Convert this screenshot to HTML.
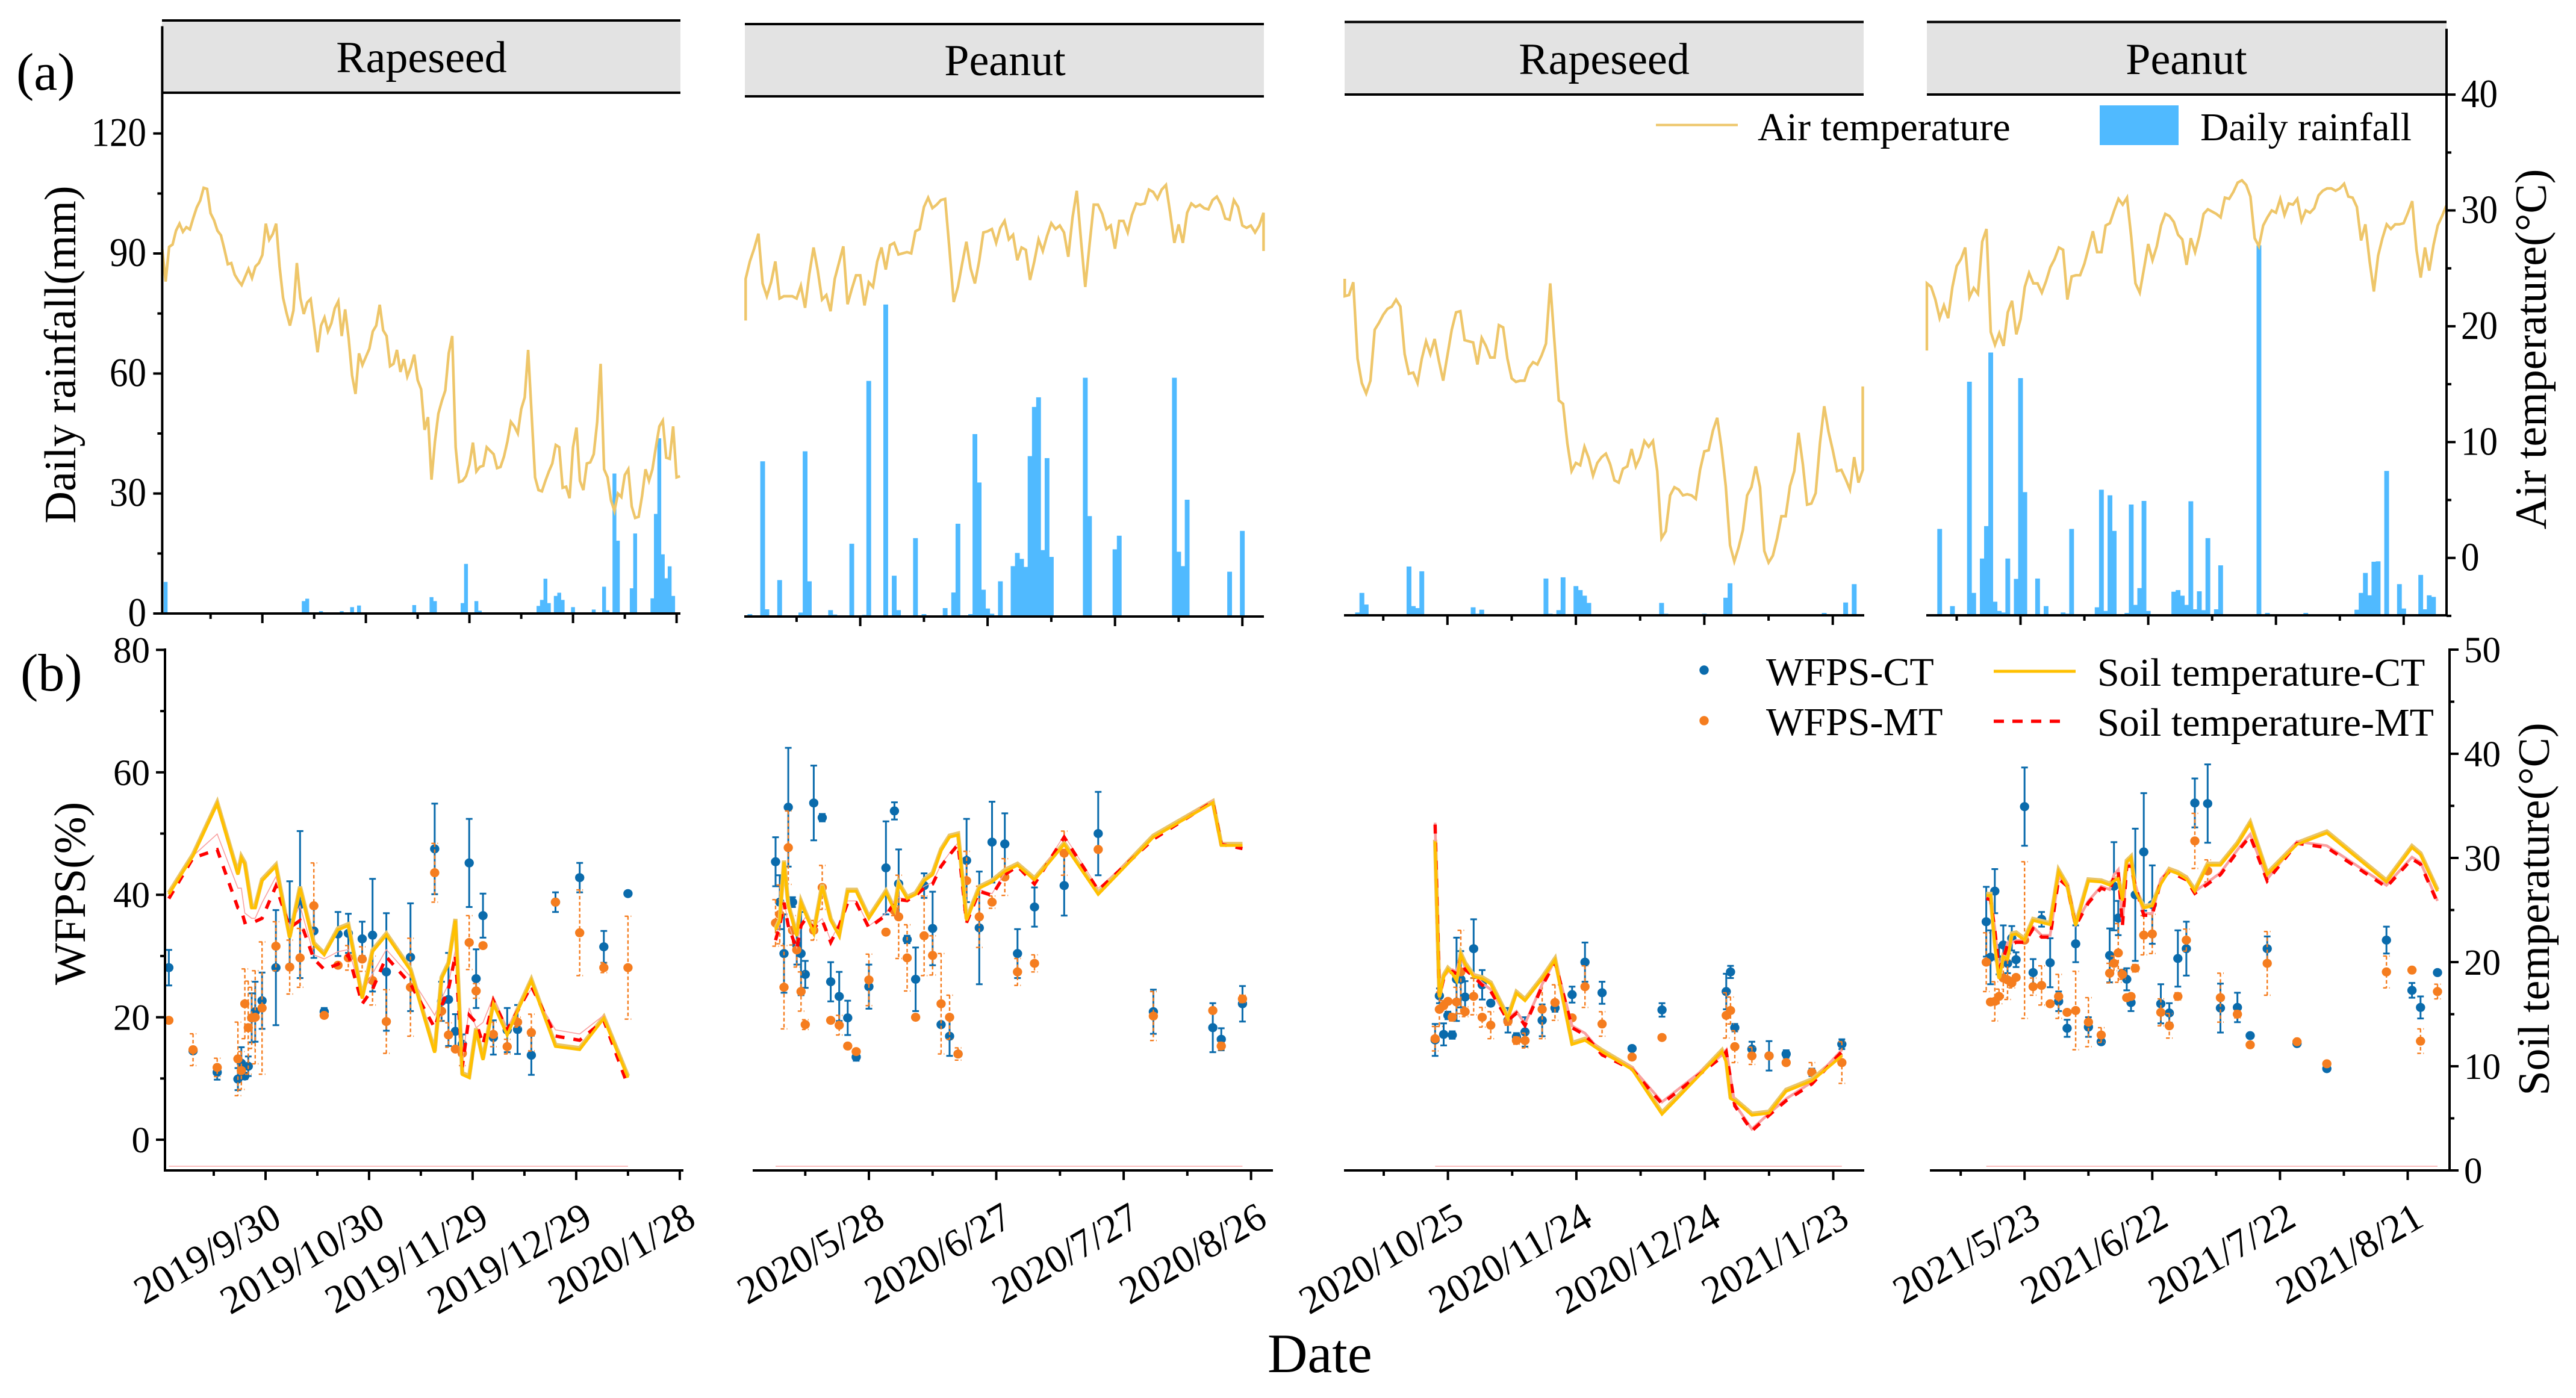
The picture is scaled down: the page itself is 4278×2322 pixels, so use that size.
<!DOCTYPE html>
<html lang="en">
<head>
<meta charset="utf-8">
<title>Rainfall, air temperature, WFPS and soil temperature</title>
<style>
html,body{margin:0;padding:0;background:#fff}
svg{display:block}
text{font-family:"Liberation Serif",serif;fill:#000}
</style>
</head>
<body>
<svg id="chart" width="4278" height="2322" viewBox="0 0 4278 2322" xmlns="http://www.w3.org/2000/svg">
<rect x="0" y="0" width="4278" height="2322" fill="#fff"/>
<g id="strips">
<rect x="269" y="34" width="861" height="120" fill="#e3e3e3"/>
<rect x="1237" y="40" width="862" height="120" fill="#e3e3e3"/>
<rect x="2233" y="36.5" width="862" height="120.5" fill="#e3e3e3"/>
<rect x="3200" y="36.5" width="863" height="120.5" fill="#e3e3e3"/>
<path d="M269 34H1130M269 154H1130M1237 40H2099M1237 160H2099M2233 36.5H3095M2233 157H3095M3200 36.5H4063M3200 157H4063" stroke="#000" stroke-width="4" fill="none"/>
<text x="700" y="120" font-size="74" text-anchor="middle">Rapeseed</text>
<text x="1669" y="125" font-size="74" text-anchor="middle">Peanut</text>
<text x="2664" y="123" font-size="74" text-anchor="middle">Rapeseed</text>
<text x="3631" y="123" font-size="74" text-anchor="middle">Peanut</text>
</g>
<g id="plot"></g>
<g id="axes"></g>
<g id="titles">
<text x="27" y="149" font-size="88">(a)</text>
<text x="34" y="1147" font-size="88">(b)</text>
<text transform="translate(125,589) rotate(-90)" font-size="74" text-anchor="middle">Daily rainfall(mm)</text>
<text transform="translate(141,1484) rotate(-90)" font-size="74" text-anchor="middle">WFPS(%)</text>
<text transform="translate(4228,580) rotate(-90)" font-size="74" text-anchor="middle">Air temperature(°C)</text>
<text transform="translate(4233,1510) rotate(-90)" font-size="74" text-anchor="middle">Soil temperature(°C)</text>
<text x="2105" y="2279" font-size="92">Date</text>
</g>
<g id="legend-a">
<line x1="2750" x2="2886" y1="207.6" y2="207.6" stroke="#eec66a" stroke-width="4"/>
<text x="2919" y="233" font-size="66">Air temperature</text>
<rect x="3487" y="175" width="131" height="66" fill="#50baff"/>
<text x="3654" y="233" font-size="65.5">Daily rainfall</text>
</g>
<g id="legend-b">
<circle cx="2830" cy="1113" r="7.7" fill="#0a6bac"/>
<text x="2933" y="1138" font-size="66">WFPS-CT</text>
<circle cx="2830" cy="1197" r="7.7" fill="#f57d1f"/>
<text x="2933" y="1221" font-size="66">WFPS-MT</text>
<line x1="3311" x2="3447" y1="1115" y2="1115" stroke="#ffc000" stroke-width="5"/>
<text x="3483" y="1139" font-size="66">Soil temperature-CT</text>
<line x1="3311" x2="3427" y1="1198" y2="1198" stroke="#f00" stroke-width="5.5" stroke-dasharray="17 14"/>
<text x="3483" y="1222" font-size="66">Soil temperature-MT</text>
</g>
</svg>
<script>
/* ---------- air temperature, one value per day from each panel's first day (°C) ---------- */
var air1=[26.5,23.7,26.7,26.9,28.1,28.7,28.0,28.4,28.2,29.2,30.1,30.7,31.8,31.7,29.6,29.0,28.1,27.7,26.5,25.2,25.3,24.3,23.8,23.4,24.1,24.8,24.0,25.0,25.3,26.0,28.7,27.3,27.8,28.7,25.0,22.3,21.0,19.9,21.2,25.3,22.3,20.9,21.9,22.2,19.9,17.6,19.9,20.6,19.4,20.1,21.4,22.0,19.0,21.3,18.8,15.6,14.0,17.5,16.5,17.2,17.9,19.4,19.9,21.7,19.5,19.0,16.4,16.6,17.8,15.9,17.0,15.5,16.3,17.4,15.2,14.4,10.9,12.0,6.6,9.9,12.3,13.4,14.3,17.5,19.0,9.4,6.4,6.5,6.9,7.9,9.8,7.3,7.7,7.8,9.4,9.1,8.8,7.6,7.7,8.6,9.9,11.6,11.2,10.6,12.7,13.7,17.8,12.3,6.8,5.7,5.6,6.5,7.3,8.0,9.6,9.4,5.9,6.0,5.0,9.4,11.1,6.5,5.7,8.0,8.1,8.8,11.6,16.6,7.5,6.8,4.8,3.9,5.4,5.1,7.0,7.5,4.3,3.3,3.4,5.2,7.5,6.5,7.5,9.4,11.2,11.7,8.5,8.4,11.2,6.8,6.9];
var air2=[24.2,25.7,26.8,28.1,23.8,22.7,23.9,25.7,22.5,22.7,22.7,22.7,22.5,23.6,21.7,24.6,26.9,24.9,22.4,22.8,21.4,24.2,25.6,27.0,22.0,23.3,24.5,24.5,21.9,23.9,23.5,25.7,26.9,25.0,27.1,27.3,26.3,26.4,26.5,26.4,28.3,28.5,30.4,31.2,30.3,30.6,31.0,31.1,26.8,22.2,23.5,25.5,27.4,25.1,23.8,25.7,28.2,28.3,28.5,27.3,28.6,29.2,27.6,28.0,25.8,26.9,26.7,24.1,25.7,27.6,26.6,27.9,29.0,28.5,28.8,28.2,26.1,29.5,31.8,27.5,23.5,27.1,30.6,30.6,29.8,28.5,28.8,26.8,29.2,29.2,28.2,29.7,30.7,30.6,30.7,31.9,31.7,31.1,31.9,32.3,29.9,27.3,28.9,27.3,29.9,30.7,30.4,30.6,30.3,30.2,31.0,31.3,30.6,29.4,29.3,31.0,30.4,28.8,28.6,28.8,28.2,28.8,29.9];
var air3=[22.6,22.7,23.8,17.2,15.1,14.2,15.3,19.7,20.3,21.0,21.5,21.7,22.3,21.7,17.6,15.9,16.0,15.1,17.2,18.7,17.6,18.9,17.0,15.3,17.5,19.7,21.2,21.3,18.8,18.7,18.6,16.7,19.0,18.3,17.3,17.3,20.1,19.9,17.2,15.5,15.2,15.3,15.3,16.4,16.9,16.7,17.5,18.5,23.7,18.6,13.6,13.3,9.9,7.5,8.2,8.0,9.6,8.6,7.1,8.2,8.7,9.0,8.1,6.7,6.5,7.7,7.9,9.4,7.9,8.7,10.1,9.6,10.1,7.5,1.7,2.3,5.4,6.1,5.9,5.4,5.5,5.4,5.1,7.6,9.2,9.3,11.0,12.1,9.5,6.2,1.1,-0.3,0.9,2.4,5.4,6.1,7.9,6.1,0.6,-0.4,0.2,1.7,3.6,3.6,6.2,7.5,10.8,8.1,4.6,4.7,5.6,9.9,13.1,10.9,9.3,7.5,7.6,6.8,5.9,8.7,6.5,7.6];
var air4=[23.7,23.4,22.3,20.7,21.8,20.7,23.4,25.2,25.8,26.8,22.5,23.3,22.8,27.3,28.4,19.5,18.4,19.4,18.3,21.2,22.2,19.3,20.6,23.4,24.6,23.7,23.7,22.9,23.9,25.1,25.8,26.8,26.6,22.3,24.3,24.4,24.4,25.4,26.8,28.2,26.4,26.4,28.7,28.9,30.0,31.0,30.5,31.1,27.7,23.7,22.9,25.0,27.1,25.7,26.9,28.7,29.7,29.5,29.0,27.9,27.5,25.3,27.6,26.4,27.8,29.7,30.1,29.9,29.7,29.4,31.1,31.0,31.6,32.4,32.6,32.2,31.2,27.6,26.9,28.7,29.4,30.0,29.8,31.0,29.6,30.6,30.5,31.0,29.1,30.0,29.8,30.2,31.3,31.7,31.9,31.9,31.7,31.9,32.3,31.2,31.1,30.3,27.4,28.8,25.6,23.0,26.1,27.6,28.8,28.4,28.8,28.8,28.9,29.8,30.8,26.6,24.2,26.8,24.8,27.0,28.7,29.5,30.4];
var airEdgeStart=[null,20.6,24.1,17.9];
var airEdgeEnd=[null,26.6,14.8,null];

/* ---------- daily rainfall (day index, mm) ---------- */
var rainDays1=[1,41,42,43,46,52,55,57,72,73,78,79,87,88,91,92,109,110,111,112,114,115,116,119,125,128,129,131,132,133,136,137,142,143,144,145,146,147,148];
var rainVals1=[7.9,3.1,3.7,0.2,0.6,0.6,1.6,2.0,0.3,2.1,4.1,3.1,2.6,12.4,3.1,0.7,1.9,3.4,8.7,2.6,4.4,5.2,3.4,1.6,1.0,6.7,0.8,35,18.2,0.3,6.3,20,3.8,24.9,43.8,14.8,8.8,11.8,4.4];
var rainDays2=[1,4,5,6,8,13,14,15,20,21,25,28,29,31,33,35,36,40,42,47,49,50,53,54,55,56,57,58,60,63,64,65,66,67,68,69,70,71,72,80,81,87,88,101,102,103,104,114,117];
var rainVals2=[0.6,38.8,1.8,0.3,9.1,1,41.3,8.8,1.6,0.5,18.2,0.4,58.9,0.2,78,10.2,1.6,19.6,0.6,2.1,6,23.2,0.6,45.6,33.5,6.7,2,0.7,8.8,12.6,15.9,14.4,12.4,40.1,52.4,54.8,16.6,39.6,14.9,59.7,25.1,16.8,20.2,59.7,16.2,12.6,29.2,11.2,21.4];
var rainDays3=[3,4,5,6,15,16,17,18,21,30,31,32,47,48,50,51,52,54,55,56,57,58,74,75,84,89,90,112,116,117,119];
var rainVals3=[0.7,5.6,2.7,0.3,12.2,2.3,1.8,11,0.2,2,0.4,1.4,9.2,0.4,1.3,9.5,0.2,7.3,6.3,4.9,3.1,0.2,3.1,0.4,0.4,4.4,8,0.6,0.3,3.2,7.8];
var rainDays4=[3,4,6,10,11,13,14,15,16,17,18,19,21,22,23,26,28,32,33,34,40,41,42,43,44,47,48,49,50,51,52,58,59,60,61,62,63,64,65,66,68,69,78,80,86,89,101,102,103,104,105,106,108,111,112,116,117,118,119];
var rainVals4=[21.6,0.3,2.3,58.4,5.6,14.2,22.3,65.7,3.4,1.1,0.7,14.2,9.1,59.3,30.8,9.2,2.3,0.7,0.4,21.6,2,31.4,1.1,30,21.1,0.6,27.7,2.6,6.8,28.6,1.1,5.9,6.3,4.9,2.6,28.5,1.5,6,1.3,19.3,1.5,12.5,92.5,0.6,0.2,0.6,1.4,5.6,10.6,5,13.4,13.5,36.1,7.8,1.7,10.1,1.5,5,4.6];

/* ---------- WFPS (%) with error sizes ---------- */
var wfpsDays1=[1,8,15,21,22,23,24,25,26,28,32,36,39,43,46,50,53,57,60,64,71,78,80,82,84,86,88,90,92,95,99,102,106,113,120,127,134];
var wfpsCt1=[28.1,14.5,11,9.9,12.5,10.4,12,19.9,20.9,22.7,28.1,35.4,38.4,34.1,20.9,33.6,33.7,32.8,33.4,27.4,29.8,47.5,22.6,22.9,17.7,15.6,45.2,26.3,36.6,16.7,17.9,18,13.8,38.8,42.8,31.5,40.2];
var wfpsCtErr1=[2.9,0.3,1.2,1.8,2.6,0.5,1.6,4,4.9,4.6,9.4,6.8,12,4.4,0.6,3.6,3.2,2.8,9.2,9.6,8.8,7.4,3.2,7.6,2.8,1.6,7.2,4.8,3.6,2.8,3.6,4,3.2,1.6,2.4,2.6,0];
var wfpsMt1=[19.5,14.7,11.8,13.2,11.3,22.2,18.3,19.9,20,21.5,31.6,28.2,29.7,38.2,20.3,28.5,29.7,29.5,26,19.3,24.9,43.6,21,17.1,14.8,14.1,32.2,24.3,31.7,17.2,15.2,19.2,17.5,38.8,33.8,28.1,28.1];
var wfpsMtErr1=[0,2.6,1.5,6,3.1,5.7,7.6,5,7.6,10.8,4,4.4,4.8,7,0.4,0.4,2,2,4,5.2,8,4.8,1.6,2,0.4,2,4.4,1.2,0.4,2,1.2,0.8,3,0.2,7,0.8,8.4];

var wfpsDays2=[5,6,7,8,9,10,11,12,14,16,18,20,22,24,27,31,33,34,36,38,40,42,44,46,48,50,53,56,59,62,66,73,81,94,108,110,115];
var wfpsCt2=[45.4,38.8,30.4,54.3,38.8,31.8,30.4,27,55,52.6,25.8,23.4,19.9,13.5,25,44.4,53.7,41.8,32.7,26.2,41.5,34.5,18.8,16.9,14,45.6,34.6,48.6,48.3,30.4,38,41.5,50,20.9,18.3,16.4,22.2];
var wfpsCtErr2=[4,4.4,6.4,9.7,0.8,3.2,6.8,2.2,6.1,0.6,3.2,4,2.8,0.6,3.6,7.6,1.4,5.6,0.6,5.2,2,6,0.2,3.2,0.2,6.8,9.2,6.6,5,4,3.2,4.9,6.8,3.6,4,1.8,2.9];
var wfpsMt2=[35.4,36.8,24.9,47.7,34.2,31,24.2,18.8,34.2,41.2,19.5,18.7,15.3,14.4,26.1,33.9,37.4,36.4,29.7,20,33.3,30.1,22.2,20,14,42.3,36.4,38.8,42.9,27.4,28.8,46.8,47.4,20.2,21.1,15.3,23];
var wfpsMtErr2=[3.8,4.8,6.8,6,2.4,2.8,3.2,0.8,1.6,3.6,0.4,1.6,0.2,0.2,4.2,0.4,0.8,6.8,5.4,0.4,6.5,3.2,8.2,3.6,1,4.8,5,1,3,2.2,1.4,3.6,0.4,4,0.4,0.6,0.6];

var wfpsDays3=[21,22,23,24,25,26,27,28,30,32,34,38,40,42,46,49,53,56,60,67,74,89,90,91,95,99,103,109,116];
var wfpsCt3=[16.3,23.5,17.2,20.3,17.1,26.2,26.2,23.3,31.2,25.3,22.3,19.5,16.8,17.6,19.5,21.5,23.7,29,24,14.9,21.2,24.2,27.4,18.3,14.8,13.7,14,11,15.6];
var wfpsCtErr3=[2.6,1.2,1.8,0.6,0.6,6.8,4.6,2.6,4.8,2.4,0.4,2,0.6,2.4,2.6,0.6,1.3,3.2,1.8,0.4,1.1,2.9,1,0.6,1.2,2.4,0.6,0.6,0.8];
var wfpsMt3=[16.5,21.3,21.9,22.6,20,22.5,27.4,20.9,23.4,20,18.7,19.3,16.2,16.2,21.3,22.4,19.9,25,18.9,13.5,16.7,20.3,21.1,15.2,13.7,13.7,12.6,11,12.6];
var wfpsMtErr3=[2,2.8,0.8,0.4,0.6,2.4,6.8,0.8,3,1.6,2.2,0.6,0.6,1.2,4.8,2.9,0.4,3.4,2,0.4,0.2,3.7,2.2,2.6,1.4,0.4,0.4,1.6,3.4];

var wfpsDays4=[13,14,15,16,17,18,19,20,22,24,26,28,30,32,34,37,40,42,43,44,45,46,47,48,50,52,54,56,58,60,62,65,68,72,75,79,86,93,107,113,115,119];
var wfpsCt4=[35.6,29.8,40.6,29.4,31.8,28.8,32.9,29.4,54.4,27.3,36,28.9,22.6,18.2,32,18.4,16,30.1,41.4,36.2,27.2,26.2,22.4,40,47,38.4,22.2,20.7,29.6,31.2,55,54.9,21.5,21.6,17,31.2,15.7,11.6,32.6,24.4,21.6,27.3];
var wfpsCtErr4=[5.7,4.4,3.6,2.4,3.2,1.6,2,1.2,6.4,2.2,1.2,4,1.6,1.4,3,1.6,0.4,4.4,7.2,2.8,0.4,1.8,1.4,10.8,9.6,6.4,3.2,1.6,4.6,4.4,4,6.4,4,2.4,0.2,2,0.2,0.2,2.2,1.2,1.8,0.2];
var wfpsMt4=[29,22.5,22.6,23.4,26.4,26.1,25.6,26.5,32.6,25,25.2,22.2,23.4,20.8,21.1,19.2,17.1,27.2,28.8,30.5,27,23.2,23.4,28,33.4,33.6,20.8,18.6,23.4,32.6,48.8,43.9,23.2,20.5,15.5,28.8,16,12.4,27.4,27.7,16.1,24.2];
var wfpsMtErr4=[4.8,0.4,3.2,1.2,3.2,3.2,0.8,0.4,12.8,1.4,3.2,0.2,3.6,0.2,6.4,4,1.2,1.6,1.2,4.8,0.8,0.2,0.2,0.6,3.2,3.2,2.2,2,0.6,1.8,4.5,1.8,4,0.6,0.2,5.2,0.2,0.2,2.6,0.4,2,1.2];

/* ---------- soil temperature (°C) ---------- */
var soilDays1=[1,8,15,21,22,23,25,26,28,32,36,39,43,46,50,53,57,60,64,71,78,80,82,84,86,88,90,92,95,99,102,106,113,120,127,134];
var soilCt1=[26.5,30.2,35.2,28.4,30,29.4,25.2,25.2,27.8,29.2,22.3,27.1,21.7,20.7,23.1,23.5,16.5,21,22.6,19.2,11.3,18.4,19.8,24,9.2,8.9,13.5,10.6,16,13,15.3,18.2,11.9,11.6,14.6,8.9];
var soilMt1=[26.1,30,30.8,25.2,25,23.8,24,23.9,24.2,27.3,23.3,24,20.3,19.3,19.8,20.7,16,17.4,20.5,17.9,13.7,15.8,17.4,20.7,9.9,14.9,14.2,12.1,16.3,13.5,15.3,17.7,12.9,12.5,14.4,8.1];
var soilMtUpper1=[26.4,30.2,32.3,27.1,27.1,24.7,24.2,24.2,25.7,28.2,23.5,25.4,20.7,20.3,21,21.2,17,18.9,21.2,18.6,14.9,16.5,17.9,21.2,10.4,15.6,13.7,14.2,16.7,13.7,15.6,17.4,13.5,13.1,14.9,9];

var soilDays2=[5,6,7,8,10,11,12,14,16,18,20,22,24,27,31,33,34,36,38,40,42,44,46,48,50,53,56,59,62,66,73,81,94,108,110,115];
var soilCt2=[23.1,24,29.6,25.4,22.5,25.7,24.7,22.8,27.3,24,22.5,26.8,26.8,24.2,26.7,25,27.5,26.1,26.5,27.8,28.4,30.7,32,32.2,24,27.1,27.7,28.7,29.3,27.9,31.3,26.5,32,35.3,31.2,31.2];
var soilMt2=[22.1,23.5,25.7,23.5,21.2,23.5,24.1,23.3,24,21.9,23.5,25.7,25.7,23.3,24.5,25.7,26,25.9,26.4,27.1,27.5,29.2,30.3,31.3,23.8,26.8,26.4,28.4,29.2,27.5,32,26.9,31.8,35.4,31.3,30.9];

var soilDays3=[21,22,23,24,25,26,27,28,30,32,34,38,40,42,46,49,53,56,60,67,74,88,89,90,91,95,99,103,109,116];
var soilCt3=[31.6,16.6,18.6,19.3,18.9,18.2,20.7,19.8,18.6,18.4,17.9,14.6,17,16.3,18.4,20.2,12.1,12.5,11.4,9.7,5.4,11.4,10.4,6.9,6.7,5.3,5.5,7.6,8.6,11];
var soilMt3=[33.2,16.7,18.4,18.9,19.1,18.9,20.5,19.3,18.6,17.8,17.2,14.4,15.1,13.9,17.7,20,13.7,13,11.1,9.7,6.4,10.9,11.4,8.8,6.2,3.8,5.3,6.7,8.3,11.4];

var soilDays4=[13,14,15,16,17,18,19,20,22,24,26,28,30,32,34,37,40,42,43,44,45,46,47,48,50,52,54,56,58,60,62,65,68,72,75,79,86,93,107,113,115,119];
var soilCt4=[26.4,26.4,21.7,18.4,20.5,20.3,22.6,22.7,22.1,24,23.8,23.6,28.7,27.3,23.5,27.8,27.7,27.4,27.8,28,25.9,29.6,30,26.8,25.2,25.4,27.5,28.8,28.5,28,26.8,29.3,29.3,31.3,33.3,28.4,31.3,32.4,27.7,31,30.3,26.8];
var soilMt4=[26.1,26,23.1,19.3,20.3,21.7,21.7,21.9,21.9,23.2,22.4,22.4,28,27.3,23.5,25.7,27.1,26.8,28.2,28.7,23.5,29.2,29.2,27.3,24.5,24.5,27.8,28.7,28.3,27.9,26.6,27.5,28.4,30.6,32.1,27.8,31.4,31,27.2,29.9,29.4,25.7];
var soilFloor=[0.4];

/* ---------- tick labels ---------- */
var xLabels1=['2019/9/30','2019/10/30','2019/11/29','2019/12/29','2020/1/28'];
var xLabels2=['2020/5/28','2020/6/27','2020/7/27','2020/8/26'];
var xLabels3=['2020/10/25','2020/11/24','2020/12/24','2021/1/23'];
var xLabels4=['2021/5/23','2021/6/22','2021/7/22','2021/8/21'];
var rainTicks=[0,30,60,90,120];
var rainMinor=[15,45,75,105];
var airTicks=[0,10,20,30,40];
var airMinor=[-5,5,15,25,35];
var wfpsTicks=[0,20,40,60,80];
var wfpsMinor=[10,30,50,70];
var soilTicks=[0,10,20,30,40,50];
var soilMinor=[5,15,25,35,45];

/* ---------- panel geometry ---------- */
var panels=[
 {air:air1,rd:rainDays1,rv:rainVals1,wd:wfpsDays1,ct:wfpsCt1,ce:wfpsCtErr1,mt:wfpsMt1,me:wfpsMtErr1,sd:soilDays1,sc:soilCt1,sm:soilMt1,su:soilMtUpper1,labels:xLabels1,
  x0:269.4,x0b:274.7,ppd:5.733,base:1019,firstMinor:14,firstMajor:29,lastTick:149,axTop:[255,1130],axBot:[274,1135],name:'rapeseed-2019'},
 {air:air2,rd:rainDays2,rv:rainVals2,wd:wfpsDays2,ct:wfpsCt2,ce:wfpsCtErr2,mt:wfpsMt2,me:wfpsMtErr2,sd:soilDays2,sc:soilCt2,sm:soilMt2,labels:xLabels2,
  x0:1238.3,x0b:1252.7,ppd:7.05,base:1024,firstMinor:12,firstMajor:27,lastTick:117,axTop:[1236,2099],axBot:[1250,2114],name:'peanut-2020'},
 {air:air3,rd:rainDays3,rv:rainVals3,wd:wfpsDays3,ct:wfpsCt3,ce:wfpsCtErr3,mt:wfpsMt3,me:wfpsMtErr3,sd:soilDays3,sc:soilCt3,sm:soilMt3,labels:xLabels3,
  x0:2233.2,x0b:2234,ppd:7.11,base:1022,firstMinor:9,firstMajor:24,lastTick:114,axTop:[2232,3096],axBot:[2232,3096],name:'rapeseed-2020'},
 {air:air4,rd:rainDays4,rv:rainVals4,wd:wfpsDays4,ct:wfpsCt4,ce:wfpsCtErr4,mt:wfpsMt4,me:wfpsMtErr4,sd:soilDays4,sc:soilCt4,sm:soilMt4,labels:xLabels4,
  x0:3200,x0b:3206.7,ppd:7.07,base:1022,firstMinor:7,firstMajor:22,lastTick:112,axTop:[3199,4063],axBot:[3205,4068],name:'peanut-2021'}
];

/* ---------- axis functions ---------- */
function xTop(p,d){return p.x0+d*p.ppd;}
function xBot(p,d){return p.x0b+d*p.ppd;}
function yRain(p,v){return p.base-v*6.644;}
function yAir(p,t){return p.base-95.3-t*19.24;}
function yWfps(w){return 1893-w*10.17;}
function ySoil(t){return 1944-t*17.3;}

var NS='http://www.w3.org/2000/svg';
var plot=document.getElementById('plot');
var axes=document.getElementById('axes');
function make(tag,attrs,parent){
  var e=document.createElementNS(NS,tag);
  for(var k in attrs){e.setAttribute(k,attrs[k]);}
  parent.appendChild(e);
  return e;
}
function pathOf(xs,ys){
  var d='';
  for(var i=0;i<xs.length;i++){d+=(i?'L':'M')+xs[i].toFixed(1)+' '+ys[i].toFixed(1);}
  return d;
}
var BLACK='#000',AW=4;

/* ---------- marks ---------- */
panels.forEach(function(p,pi){
  var top=make('g',{},plot);
  
  
  var barW=p.ppd*1.12;
  p.rd.forEach(function(d,i){
    var y=yRain(p,p.rv[i]);
    var bar=make('rect',{x:(xTop(p,d)-barW/2).toFixed(1),y:y.toFixed(1),width:barW.toFixed(1),height:(p.base-y).toFixed(1),fill:'#50baff'},top);
    
    
  });
  var ax=[],ay=[];
  if(airEdgeStart[pi]!==null){ax.push(xTop(p,0));ay.push(yAir(p,airEdgeStart[pi]));}
  p.air.forEach(function(t,i){ax.push(xTop(p,i));ay.push(yAir(p,t));});
  if(airEdgeEnd[pi]!==null){ax.push(xTop(p,p.air.length-1));ay.push(yAir(p,airEdgeEnd[pi]));}
  var airLine=make('path',{d:pathOf(ax,ay),fill:'none',stroke:'#eec66a','stroke-width':4.4,'stroke-linejoin':'miter'},top);
  
  

  var bot=make('g',{},plot);
  
  
  var floorXs=[xBot(p,p.sd[0]),xBot(p,p.sd[p.sd.length-1])];
  var floorLine=make('path',{d:pathOf(floorXs,[ySoil(soilFloor[0]),ySoil(soilFloor[0])]),fill:'none',stroke:'#f9a0a0','stroke-width':1.4},bot);
  
  

  function series(vals,errs,col,dash,sw,label){
    p.wd.forEach(function(d,i){
      var x=xBot(p,d),y=yWfps(vals[i]),e=errs[i]*10.17;
      if(e>1){
        var a=y-e,b=y+e,c=5.5;
        var bar=make('path',{d:'M'+x.toFixed(1)+' '+a.toFixed(1)+'V'+b.toFixed(1)+'M'+(x-c).toFixed(1)+' '+a.toFixed(1)+'H'+(x+c).toFixed(1)+'M'+(x-c).toFixed(1)+' '+b.toFixed(1)+'H'+(x+c).toFixed(1),fill:'none',stroke:col,'stroke-width':sw},bot);
        if(dash){bar.setAttribute('stroke-dasharray',dash);}
        
        
      }
    });
  }
  function dots(vals,col,label){
    p.wd.forEach(function(d,i){
      var dot=make('ellipse',{cx:xBot(p,d).toFixed(1),cy:yWfps(vals[i]).toFixed(1),rx:7.7,ry:7.5,fill:col},bot);
      
      
    });
  }
  series(p.ct,p.ce,'#0a6bac',null,3,'wfps-ct');
  dots(p.ct,'#0a6bac','wfps-ct');
  series(p.mt,p.me,'#f57d1f','6 4',2.4,'wfps-mt');
  dots(p.mt,'#f57d1f','wfps-mt');

  var sx=p.sd.map(function(d){return xBot(p,d);});
  var ctY=p.sc.map(ySoil), mtY=p.sm.map(ySoil);
  var ctBand=make('path',{d:pathOf(sx,ctY),fill:'none',stroke:'#e8c56b','stroke-width':7,transform:'translate(0,-2.5)'},bot);
  
  
  var mtBand;
  if(p.su){
    mtBand=make('path',{d:pathOf(sx,p.su.map(ySoil)),fill:'none',stroke:'#f9a0a0','stroke-width':1.6},bot);
  }else{
    mtBand=make('path',{d:pathOf(sx,mtY),fill:'none',stroke:'#f9a0a0','stroke-width':pi<2?1.5:4.5,transform:'translate(0,-3)'},bot);
  }
  
  
  var mtLine=make('path',{d:pathOf(sx,mtY),fill:'none',stroke:'#f00','stroke-width':5.5,'stroke-dasharray':'15 15'},bot);
  
  
  var ctLine=make('path',{d:pathOf(sx,ctY),fill:'none',stroke:'#ffc000','stroke-width':4.8},bot);
  
  

  /* x axes */
  var lineT=make('line',{x1:p.axTop[0],x2:p.axTop[1],y1:p.base,y2:p.base,stroke:BLACK,'stroke-width':AW},axes);
  
  
  var lineB=make('line',{x1:p.axBot[0],x2:p.axBot[1],y1:1944,y2:1944,stroke:BLACK,'stroke-width':AW},axes);
  
  
  var n=0;
  for(var d=p.firstMinor;d<=p.lastTick;d+=15){
    var major=((d-p.firstMajor)%30===0);
    var len=major?16:9;
    var t1=make('line',{x1:xTop(p,d).toFixed(1),x2:xTop(p,d).toFixed(1),y1:p.base,y2:p.base+len,stroke:BLACK,'stroke-width':AW},axes);
    
    
    var t2=make('line',{x1:xBot(p,d).toFixed(1),x2:xBot(p,d).toFixed(1),y1:1944,y2:1944+len,stroke:BLACK,'stroke-width':AW},axes);
    
    
    if(major){
      var lx=xBot(p,d)+30;
      var lab=make('text',{x:0,y:0,'font-size':66,'text-anchor':'end',transform:'translate('+lx.toFixed(1)+',2034) rotate(-30)'},axes);
      lab.textContent=p.labels[n];
      
      
      n++;
    }
  }
});

/* ---------- y axes ---------- */
function yAxis(x,yA,yB,ticks,minor,yf,dir,anchorX,anchor,sy,name){
  var l=make('line',{x1:x,x2:x,y1:yA,y2:yB,stroke:BLACK,'stroke-width':AW},axes);
  
  
  ticks.forEach(function(v){
    var y=yf(v);
    var t=make('line',{x1:x,x2:x+dir*15,y1:y.toFixed(1),y2:y.toFixed(1),stroke:BLACK,'stroke-width':AW},axes);
    
    
    var s=make('text',{x:0,y:0,'font-size':61,'text-anchor':anchor,transform:'translate('+anchorX+','+(y+21).toFixed(1)+') scale(1,'+sy+')'},axes);
    s.textContent=String(v);
    
    
  });
  minor.forEach(function(v){
    var y=yf(v);
    var t=make('line',{x1:x,x2:x+dir*8,y1:y.toFixed(1),y2:y.toFixed(1),stroke:BLACK,'stroke-width':AW},axes);
    
    
  });
}
yAxis(269.4,43.5,1021,rainTicks,rainMinor,function(v){return yRain(panels[0],v);},-1,243,'end',1.12,'rainfall-axis');
yAxis(4063,47.7,1024,airTicks,airMinor,function(v){return yAir(panels[3],v);},1,4087,'start',1.1,'air-temperature-axis');
yAxis(274,1077,1946,wfpsTicks,wfpsMinor,yWfps,-1,249,'end',1,'wfps-axis');
yAxis(4068,1077,1946,soilTicks,soilMinor,ySoil,1,4092,'start',1,'soil-temperature-axis');
</script>
</body>
</html>
